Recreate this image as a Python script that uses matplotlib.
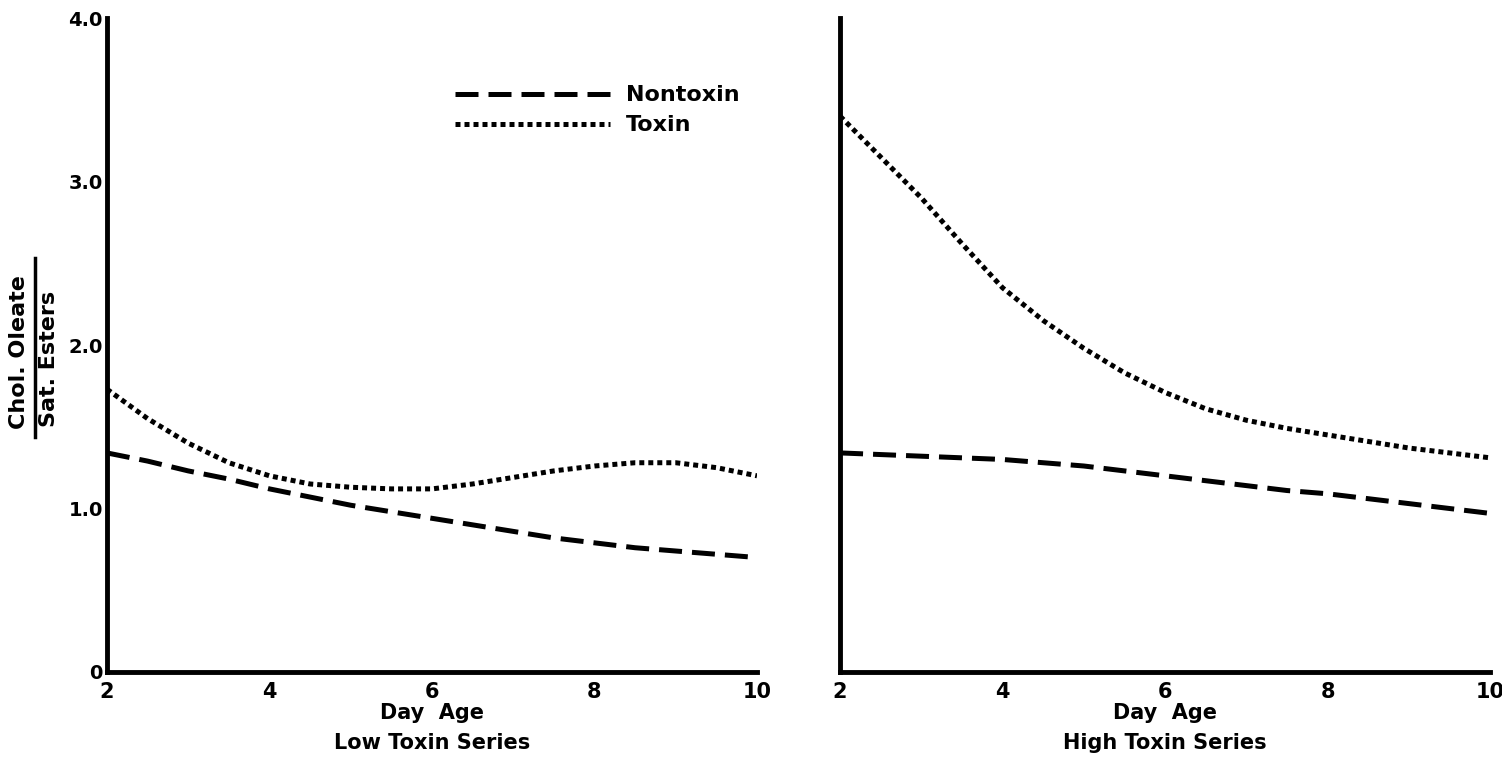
import numpy as np
import matplotlib
matplotlib.use('Agg')
from matplotlib import pyplot as plt
from matplotlib.lines import Line2D

# values
days = [2, 2.5, 3, 3.5, 4, 4.5, 5, 5.5, 6, 6.5, 7, 7.5, 8, 8.5, 9, 9.5, 10]

low_nontoxin = [1.34, 1.29, 1.23, 1.18, 1.12, 1.07, 1.02, 0.98, 0.94, 0.90, 0.86, 0.82, 0.79, 0.76, 0.74, 0.72, 0.70]
low_toxin = [1.73, 1.55, 1.40, 1.28, 1.20, 1.15, 1.13, 1.12, 1.12, 1.15, 1.19, 1.23, 1.26, 1.28, 1.28, 1.25, 1.20]

high_nontoxin = [1.34, 1.33, 1.32, 1.31, 1.30, 1.28, 1.26, 1.23, 1.20, 1.17, 1.14, 1.11, 1.09, 1.06, 1.03, 1.00, 0.97]
high_toxin = [3.40, 3.15, 2.90, 2.62, 2.35, 2.15, 1.98, 1.83, 1.71, 1.61, 1.54, 1.49, 1.45, 1.41, 1.37, 1.34, 1.31]

xticks = [2, 4, 6, 8, 10]
yticks = [0, 1, 2, 3, 4]
ytick_labels = ['0', '1.0', '2.0', '3.0', '4.0']

plt.rcParams['font.family'] = ['DejaVu Sans']
plt.rcParams['font.weight'] = 'bold'

fig = plt.figure(figsize=(15.02, 7.63), dpi=100)
ax1 = fig.add_axes([0.0712, 0.1193, 0.4328, 0.857])
ax2 = fig.add_axes([0.5593, 0.1193, 0.4328, 0.857])

dash = (0, (4.6, 2.0))
dot = (0, (1, 0.8))

for ax, nt, tx, title in [(ax1, low_nontoxin, low_toxin, 'Low Toxin Series'),
                          (ax2, high_nontoxin, high_toxin, 'High Toxin Series')]:
    ax.plot(days, nt, color='black', lw=3.6, linestyle=dash, dash_capstyle='butt', label='Nontoxin')
    ax.plot(days, tx, color='black', lw=3.6, linestyle=dot, dash_capstyle='butt', label='Toxin')
    ax.set_xlim(2, 10)
    ax.set_ylim(0, 4)
    for s in ['top', 'right']:
        ax.spines[s].set_visible(False)
    for s in ['left', 'bottom']:
        ax.spines[s].set_linewidth(3.5)
    ax.set_xticks(xticks)
    ax.set_xticklabels([str(t) for t in xticks], fontsize=15, fontweight='bold')
    ax.tick_params(axis='x', length=0, pad=7)
    ax.set_xlabel('Day  Age\n' + title, fontsize=15, fontweight='bold', labelpad=1, linespacing=1.6)
    ax.set_yticks(yticks)
    ax.tick_params(axis='y', length=0, pad=3)

ax1.set_yticklabels(ytick_labels, fontsize=14, fontweight='bold')
ax2.set_yticklabels([])

ax1.legend(loc='upper left', bbox_to_anchor=(0.535, 0.897), frameon=False,
           handlelength=7.0, prop={'weight': 'bold', 'size': 16},
           labelspacing=0.45, handletextpad=0.7, borderpad=0, borderaxespad=0)

# fraction-style y label
fig.text(0.0125, 0.539, 'Chol. Oleate', rotation=90, ha='center', va='center',
         fontsize=16, fontweight='bold')
fig.text(0.0325, 0.529, 'Sat. Esters', rotation=90, ha='center', va='center',
         fontsize=16, fontweight='bold')
fig.add_artist(Line2D([0.0235, 0.0235], [0.427, 0.662], color='black', lw=2.5,
                      transform=fig.transFigure))

fig.savefig('out.png', dpi=100)
